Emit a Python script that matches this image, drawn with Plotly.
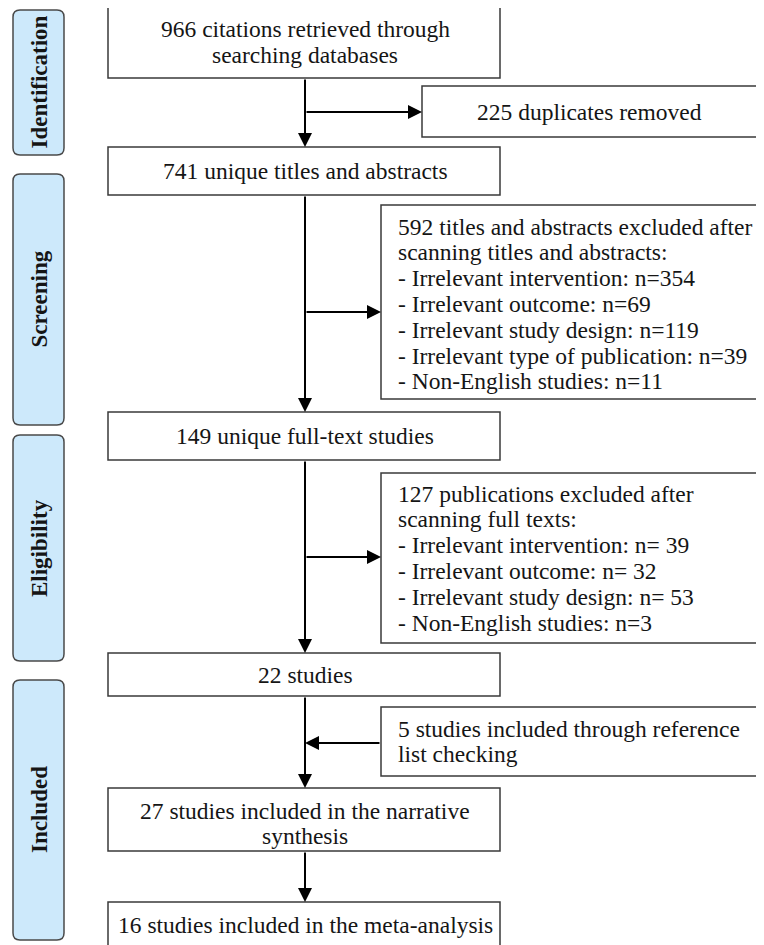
import plotly.graph_objects as go

# ---- data ----
stages = ["Identification", "Screening", "Eligibility", "Included"]
n_retrieved = 966
n_duplicates = 225
n_unique = 741
n_screen_excluded = 592
screen_reasons = ["Irrelevant intervention", "Irrelevant outcome", "Irrelevant study design",
                  "Irrelevant type of publication", "Non-English studies"]
screen_counts = ["354", "69", "119", "39", "11"]
n_fulltext = 149
n_full_excluded = 127
full_reasons = ["Irrelevant intervention", "Irrelevant outcome", "Irrelevant study design",
                "Non-English studies"]
full_counts = [" 39", " 32", " 53", "3"]
n_studies = 22
n_added = 5
n_narrative = 27
n_meta = 16

W, H = 764, 945
OFF = 8  # page body margin
FONT = "Liberation Serif"
LINE = "#3a3a3a"
FS = 23.5
LH = 25.8

fig = go.Figure()
shapes = []
annotations = []


def rect(x0, y0, x1, y1):
    shapes.append(dict(type="rect", x0=x0, y0=y0, x1=x1, y1=y1, xref="x", yref="y",
                       line=dict(color=LINE, width=1.5), fillcolor="white", layer="below"))


def rrect(x0, y0, x1, y1, r=7):
    p = (f"M{x0+r},{y0} L{x1-r},{y0} Q{x1},{y0} {x1},{y0+r} L{x1},{y1-r} Q{x1},{y1} {x1-r},{y1} "
         f"L{x0+r},{y1} Q{x0},{y1} {x0},{y1-r} L{x0},{y0+r} Q{x0},{y0} {x0+r},{y0} Z")
    shapes.append(dict(type="path", path=p, xref="x", yref="y",
                       line=dict(color="#4a4a4a", width=1.5), fillcolor="#cde9fb", layer="below"))


def arrow(x0, y0, x1, y1):
    annotations.append(dict(x=x1, y=y1, ax=x0, ay=y0, xref="x", yref="y", axref="x", ayref="y",
                            text="", showarrow=True, arrowhead=2, arrowsize=1.4, arrowwidth=2,
                            arrowcolor="black"))


def text(x, y, s, xanchor="center", size=FS, angle=0):
    annotations.append(dict(x=x, y=y, xref="x", yref="y", text=s, showarrow=False,
                            xanchor=xanchor, yanchor="middle", textangle=angle,
                            font=dict(family=FONT, size=size, color="#151515")))


def lines(x, yc, items, xanchor="center"):
    n = len(items)
    for i, s in enumerate(items):
        text(x, yc + (i - (n - 1) / 2) * LH, s, xanchor=xanchor)


# side stage labels
side = [(10, 155), (174, 425), (435, 661), (680, 940)]
for name, (y0, y1) in zip(stages, side):
    rrect(13, y0, 64, y1)
    text(39, (y0 + y1) / 2, f"<b>{name}</b>", size=23, angle=-90)

# main column
MX0, MX1 = 108, 500
CX = 305
main = [
    (7, 78, [f"{n_retrieved} citations retrieved through", "searching databases"]),
    (147, 195, [f"{n_unique} unique titles and abstracts"]),
    (412, 460, [f"{n_fulltext} unique full-text studies"]),
    (653, 696, [f"{n_studies} studies"]),
    (788, 851, [f"{n_narrative} studies included in the narrative", "synthesis"]),
    (902, 950, [f"{n_meta} studies included in the meta-analysis"]),
]
for y0, y1, s in main:
    rect(MX0, y0, MX1, y1)
main_yc = [42, 171, 436, 674.5, 823.5, 925]
for (y0, y1, s), yc in zip(main, main_yc):
    lines(CX, yc, s)

# side boxes
RX1 = 757
TX = 396
rect(422, 86, RX1, 137)
lines(589.5, 111.5, [f"{n_duplicates} duplicates removed"])

rect(381, 205, RX1, 399)
lines(TX, 304, [f"{n_screen_excluded} titles and abstracts excluded after", "scanning titles and abstracts:"]
      + [f"- {r}: n={c}" for r, c in zip(screen_reasons, screen_counts)], xanchor="left")

rect(381, 473, RX1, 643)
lines(TX, 558, [f"{n_full_excluded} publications excluded after", "scanning full texts:"]
      + [f"- {r}: n={c}" for r, c in zip(full_reasons, full_counts)], xanchor="left")

rect(381, 707, RX1, 776)
lines(TX, 741.5, [f"{n_added} studies included through reference", "list checking"], xanchor="left")

# arrows
arrow(CX, 78, CX, 147)
arrow(CX, 112, 422, 112)
arrow(CX, 195, CX, 412)
arrow(CX, 312, 381, 312)
arrow(CX, 460, CX, 653)
arrow(CX, 557, 381, 557)
arrow(CX, 696, CX, 788)
arrow(381, 743, CX, 743)
arrow(CX, 851, CX, 902)

fig.update_layout(
    width=W - OFF, height=H - OFF, margin=dict(l=0, r=0, t=0, b=0),
    paper_bgcolor="white", plot_bgcolor="white",
    xaxis=dict(range=[OFF, W], visible=False, fixedrange=True),
    yaxis=dict(range=[H, OFF], visible=False, fixedrange=True),
    shapes=shapes, annotations=annotations, showlegend=False,
)
fig.write_html("out.html", config={"displayModeBar": False})
